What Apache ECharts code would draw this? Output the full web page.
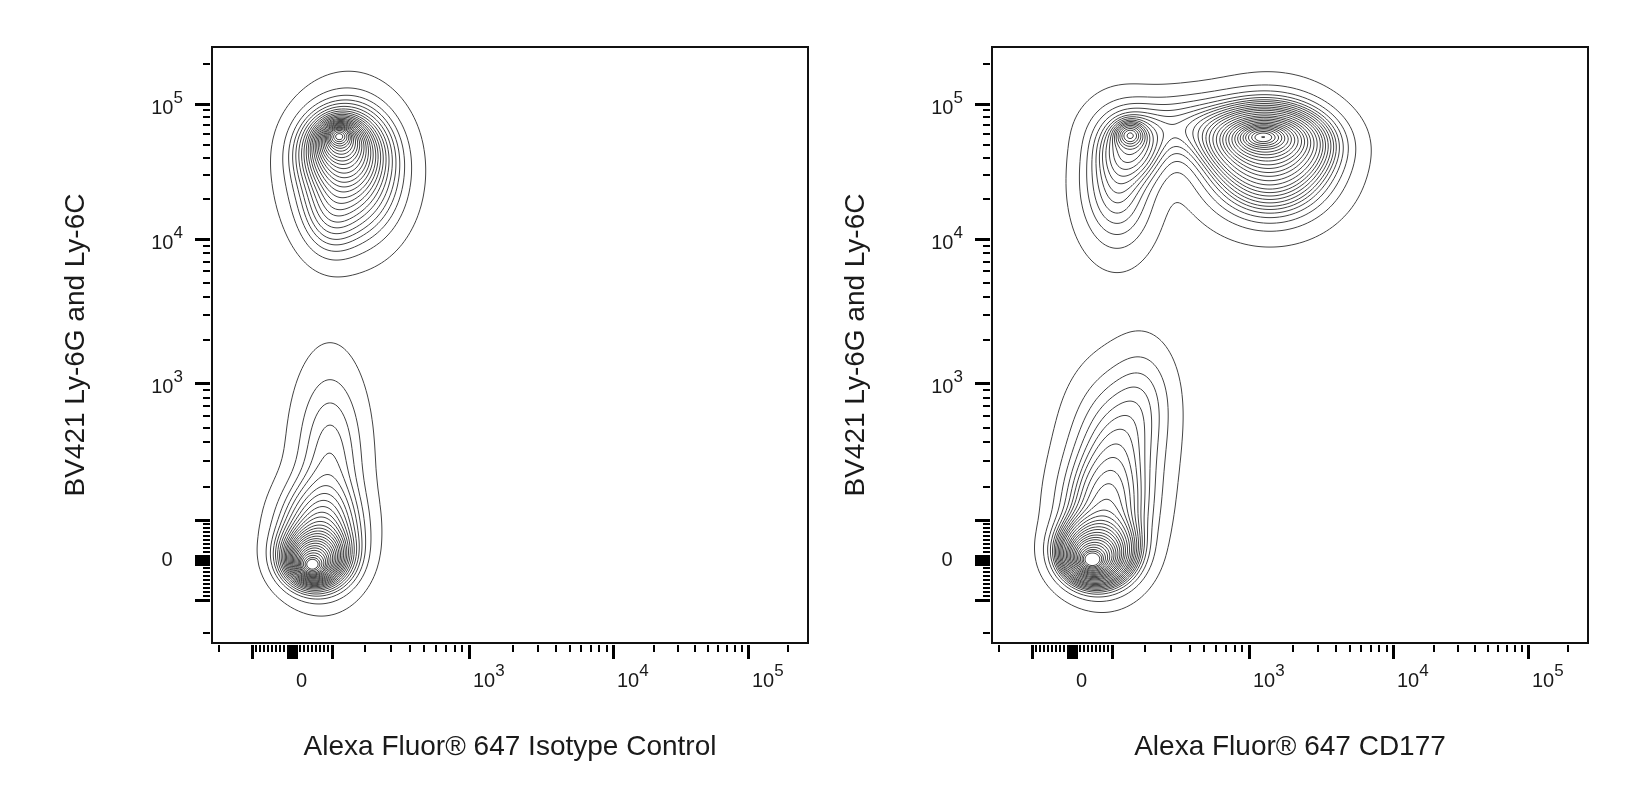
<!DOCTYPE html>
<html><head><meta charset="utf-8">
<script src="https://cdn.jsdelivr.net/npm/echarts@6/dist/echarts.min.js"></script>
<style>html,body{margin:0;padding:0;background:#fff}#c{width:1652px;height:797px}</style>
</head><body><div id="c"></div>
<script>
// ---------- axis text ----------
const xTitles = ['Alexa Fluor\u00ae 647 Isotype Control', 'Alexa Fluor\u00ae 647 CD177'];
const yTitle = 'BV421 Ly-6G and Ly-6C';
const labelValues = [0, 1000, 10000, 100000];
const labelExponents = ['', '3', '4', '5'];

// ---------- biexponential display scale (value -> display channel) ----------
const scaleValues = [100, 200, 1000, 10000, 100000, 200000];
const scaleChannels = [40, 73, 177, 321, 456, 496];
const channelMin = -80, channelMax = 516;        // x range (channels)
const channelMinY = -83, channelMaxY = 513;      // y range (channels)

// tick values (raw fluorescence)
const majorTickValues = [-100, -10, -5, 0, 5, 10, 100, 1000, 10000, 100000];
const minorTickValues = [-200, -90, -80, -70, -60, -50, -40, -30, -20, 20, 30, 40, 50, 60, 70, 80, 90,
  200, 300, 400, 500, 600, 700, 800, 900, 2000, 3000, 4000, 5000, 6000, 7000, 8000, 9000,
  20000, 30000, 40000, 50000, 60000, 70000, 80000, 90000, 200000];

// ---------- event populations (display channels), Isotype Control ----------
const isoPeakX   = [47, 48, 50, 57, 38,   20, 21, 23, 28, 38];
const isoPeakY   = [424, 420, 410, 388, 345,   -5, -3, 3, 25, 100];
const isoSpreadX = [6, 12, 22, 29, 17,   6, 11, 18, 23, 21];
const isoSpreadY = [5, 11, 21, 38, 25,   5, 10, 16, 30, 55];
const isoWeight  = [1, 2, 4, 7, 0.6,   1, 2, 4, 4, 2.2];

// ---------- event populations (display channels), CD177 ----------
const cdPeakX   = [191, 192, 195, 198, 58, 61, 45, 118,   20, 21, 24, 33, 45, 72];
const cdPeakY   = [423, 422, 418, 400, 425, 413, 376, 434,   0, 2, 8, 45, 115, 165];
const cdSpreadX = [10, 20, 33, 37, 8, 20, 23, 45,   6, 12, 20, 26, 28, 20];
const cdSpreadY = [5, 10, 19, 33, 7, 21, 40, 20,   5, 10, 18, 38, 45, 35];
const cdWeight  = [1, 2, 4, 6, 0.25, 1, 1.6, 1.2,   1, 2, 4, 3, 2, 0.4];

const contourStep = 0.035;   // equal-probability contour spacing
const contourOuter = 0.985;  // fraction of events inside the outermost contour

// ---------- scale ----------
function toChannel(v) {
  const a = Math.abs(v), s = v < 0 ? -1 : 1;
  if (a <= scaleValues[0]) return v * scaleChannels[0] / scaleValues[0];
  let i = 0;
  while (i < scaleValues.length - 2 && a > scaleValues[i + 1]) i++;
  const l0 = Math.log10(scaleValues[i]), l1 = Math.log10(scaleValues[i + 1]);
  const t = (Math.log10(a) - l0) / (l1 - l0);
  return s * (scaleChannels[i] + t * (scaleChannels[i + 1] - scaleChannels[i]));
}

// ---------- density + contours ----------
const STEP = 2;
function buildGrid(cx, cy, sx, sy, w) {
  const nx = Math.round((channelMax - channelMin) / STEP) + 1;
  const ny = Math.round((channelMaxY - channelMinY) / STEP) + 1;
  const g = new Float64Array(nx * ny);
  for (let j = 0; j < ny; j++) {
    const y = channelMinY + j * STEP;
    for (let i = 0; i < nx; i++) {
      const x = channelMin + i * STEP;
      let d = 0;
      for (let k = 0; k < cx.length; k++) {
        const dx = (x - cx[k]) / sx[k], dy = (y - cy[k]) / sy[k];
        d += w[k] / (sx[k] * sy[k]) * Math.exp(-0.5 * (dx * dx + dy * dy));
      }
      g[j * nx + i] = d;
    }
  }
  return { g, nx, ny };
}
function probabilityLevels(G) {
  const s = Array.from(G.g).sort((a, b) => b - a);
  let total = 0; for (const v of s) total += v;
  const fr = [];
  for (let f = contourOuter; f > contourStep * 0.5; f -= contourStep) fr.push(f);
  fr.reverse();
  const levels = []; let cum = 0, k = 0;
  for (let i = 0; i < s.length && k < fr.length; i++) {
    cum += s[i];
    while (k < fr.length && cum >= fr[k] * total) { levels.push(s[i]); k++; }
  }
  return levels;
}
function contour(G, L) {
  const { g, nx, ny } = G;
  const pts = new Map(), segs = [];
  function key(type, i, j) {
    const k = (j * nx + i) * 2 + type;
    if (!pts.has(k)) {
      let v0, v1, x, y;
      if (type === 0) { v0 = g[j * nx + i]; v1 = g[j * nx + i + 1]; const t = (L - v0) / (v1 - v0); x = channelMin + (i + t) * STEP; y = channelMinY + j * STEP; }
      else { v0 = g[j * nx + i]; v1 = g[(j + 1) * nx + i]; const t = (L - v0) / (v1 - v0); x = channelMin + i * STEP; y = channelMinY + (j + t) * STEP; }
      pts.set(k, [x, y]);
    }
    return k;
  }
  const table = {1: [[3, 0]], 2: [[0, 1]], 3: [[3, 1]], 4: [[1, 2]], 6: [[0, 2]], 7: [[3, 2]], 8: [[3, 2]], 9: [[0, 2]], 11: [[1, 2]], 12: [[3, 1]], 13: [[0, 1]], 14: [[3, 0]]};
  for (let j = 0; j < ny - 1; j++) for (let i = 0; i < nx - 1; i++) {
    const a = g[j * nx + i], b = g[j * nx + i + 1], c = g[(j + 1) * nx + i + 1], d = g[(j + 1) * nx + i];
    const idx = (a >= L ? 1 : 0) | (b >= L ? 2 : 0) | (c >= L ? 4 : 0) | (d >= L ? 8 : 0);
    if (idx === 0 || idx === 15) continue;
    let list;
    const centerIn = (a + b + c + d) / 4 >= L;
    if (idx === 5) list = centerIn ? [[0, 1], [3, 2]] : [[3, 0], [1, 2]];
    else if (idx === 10) list = centerIn ? [[3, 0], [1, 2]] : [[0, 1], [3, 2]];
    else list = table[idx];
    for (const [e0, e1] of list) {
      const ek = e => e === 0 ? key(0, i, j) : e === 1 ? key(1, i + 1, j) : e === 2 ? key(0, i, j + 1) : key(1, i, j);
      segs.push([ek(e0), ek(e1)]);
    }
  }
  const adj = new Map();
  segs.forEach((s, n) => { for (const k of s) { if (!adj.has(k)) adj.set(k, []); adj.get(k).push(n); } });
  const used = new Uint8Array(segs.length), lines = [];
  for (let n = 0; n < segs.length; n++) {
    if (used[n]) continue; used[n] = 1;
    const line = [segs[n][0], segs[n][1]];
    for (const dir of [1, -1]) {
      while (true) {
        const cur = dir === 1 ? line[line.length - 1] : line[0];
        const nb = adj.get(cur).find(m => !used[m]);
        if (nb === undefined) break;
        used[nb] = 1;
        const nk = segs[nb][0] === cur ? segs[nb][1] : segs[nb][0];
        if (dir === 1) line.push(nk); else line.unshift(nk);
      }
    }
    lines.push(line.map(k => pts.get(k)));
  }
  return lines;
}
function contourLines(cx, cy, sx, sy, w) {
  const G = buildGrid(cx, cy, sx, sy, w);
  const out = [];
  for (const L of probabilityLevels(G)) for (const p of contour(G, L)) out.push({ coords: p });
  return out;
}

// ---------- axes ----------
const FONT = '"Liberation Sans", Arial, sans-serif';
const TXT = '#1a1a1a';
const majorCh = majorTickValues.map(toChannel);
const minorCh = minorTickValues.map(toChannel);
const labelCh = labelValues.map(toChannel);
function labelIndex(v) { let b = 0; labelCh.forEach((c, i) => { if (Math.abs(c - v) < Math.abs(labelCh[b] - v)) b = i; }); return b; }
const rich = {
  n: { fontSize: 20, fontFamily: FONT, color: TXT, verticalAlign: 'bottom' },
  s: { fontSize: 17, fontFamily: FONT, color: TXT, verticalAlign: 'bottom', padding: [0, 0, 11, 0] }
};
function fmtX(v) { const i = labelIndex(v); return labelExponents[i] ? '{n|10}{s|' + labelExponents[i] + '}' : '{n|0}{s| }'; }
function fmtY(v) { const i = labelIndex(v); return labelExponents[i] ? '{n|10}{s|' + labelExponents[i] + '}' : '{n|0}'; }

const grids = [], xAxes = [], yAxes = [], series = [];
const gridLefts = [212, 992];
const pops = [
  [isoPeakX, isoPeakY, isoSpreadX, isoSpreadY, isoWeight],
  [cdPeakX, cdPeakY, cdSpreadX, cdSpreadY, cdWeight]
];
for (let gi = 0; gi < 2; gi++) {
  grids.push({ left: gridLefts[gi], top: 47, width: 596, height: 596, show: true, borderColor: '#111', borderWidth: 2, backgroundColor: '#fff' });
  const common = { type: 'value', gridIndex: gi, splitLine: { show: false }, axisLine: { show: false, onZero: false }, offset: 2 };
  xAxes.push(Object.assign({}, common, {
    min: channelMin, max: channelMax, position: 'bottom',
    axisTick: { show: true, customValues: majorCh, length: 14, lineStyle: { color: '#000', width: 3 } },
    axisLabel: { show: true, customValues: labelCh, formatter: fmtX, rich, align: 'left', margin: 18, padding: [0, 0, 0, 4] },
    name: xTitles[gi], nameLocation: 'middle', nameGap: 88,
    nameTextStyle: { fontSize: 28, fontFamily: FONT, color: TXT }
  }));
  xAxes.push(Object.assign({}, common, {
    min: channelMin, max: channelMax, position: 'bottom',
    axisTick: { show: true, customValues: minorCh, length: 7, lineStyle: { color: '#000', width: 2 } },
    axisLabel: { show: false }
  }));
  yAxes.push(Object.assign({}, common, {
    min: channelMinY, max: channelMaxY, position: 'left',
    axisTick: { show: true, customValues: majorCh, length: 15, lineStyle: { color: '#000', width: 3 } },
    axisLabel: { show: true, customValues: labelCh, formatter: fmtY, rich, align: 'center', margin: 43 },
    name: yTitle, nameLocation: 'middle', nameGap: 120, nameRotate: 90,
    nameTextStyle: { fontSize: 28, fontFamily: FONT, color: TXT }
  }));
  yAxes.push(Object.assign({}, common, {
    min: channelMinY, max: channelMaxY, position: 'left',
    axisTick: { show: true, customValues: minorCh, length: 7, lineStyle: { color: '#000', width: 2 } },
    axisLabel: { show: false }
  }));
  const p = pops[gi];
  series.push({
    type: 'lines', coordinateSystem: 'cartesian2d', xAxisIndex: gi * 2, yAxisIndex: gi * 2,
    polyline: true, silent: true, animation: false,
    lineStyle: { color: '#444', width: 1, opacity: 1 },
    data: contourLines(p[0], p[1], p[2], p[3], p[4])
  });
}

const chart = echarts.init(document.getElementById('c'), null, { renderer: 'canvas' });
chart.setOption({ animation: false, backgroundColor: '#fff', grid: grids, xAxis: xAxes, yAxis: yAxes, series });
</script></body></html>
